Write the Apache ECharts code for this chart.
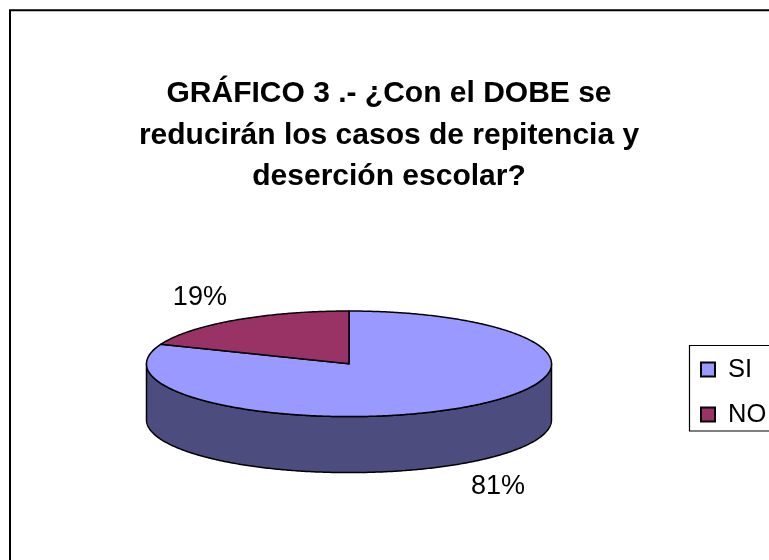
<!DOCTYPE html>
<html>
<head>
<meta charset="utf-8">
<script src="https://cdn.jsdelivr.net/npm/echarts@6/dist/echarts.min.js"></script>
<style>
html,body{margin:0;padding:0;background:#fff;}
#chart{width:769px;height:560px;}
</style>
</head>
<body>
<div id="chart"></div>
<script>
// ---- data ----
const categories = ['SI', 'NO'];
const values = [81, 19];
const titleText = 'GRÁFICO 3 .- ¿Con el DOBE se\nreducirán los casos de repitencia y\ndeserción escolar?';
const topColors = ['#9999FF', '#993366'];
const sideColors = ['#4C4C7F', '#4D1A33'];

// ---- layout ----
const CX = 349, CY = 363.8, RX = 202.5, RY = 52.8, DEPTH = 56;
const LKX = 1.31, LKY = 1.52;
const total = values.reduce((a, b) => a + b, 0);

function pt(a, dy) {
  return [CX + RX * Math.sin(a), CY - RY * Math.cos(a) + (dy || 0)];
}
function arcPts(a0, a1, dy) {
  const n = Math.max(2, Math.ceil(Math.abs(a1 - a0) / 0.01));
  const out = [];
  for (let k = 0; k <= n; k++) out.push(pt(a0 + (a1 - a0) * k / n, dy));
  return out;
}

function makeRender(idx) {
  return function (params, api) {
    const v = api.value(0);
    let before = 0;
    for (let j = 0; j < idx; j++) before += values[j];
    const a0 = before / total * Math.PI * 2;
    const a1 = a0 + v / total * Math.PI * 2;
    const children = [];
    const s0 = Math.max(a0, Math.PI / 2), s1 = Math.min(a1, Math.PI * 1.5);
    if (s1 > s0) {
      const topArc = arcPts(s0, s1, 0);
      const botArc = arcPts(s1, s0, DEPTH);
      children.push({
        type: 'polygon', z2: 1,
        shape: { points: topArc.concat(botArc) },
        style: { fill: sideColors[idx], stroke: '#000', lineWidth: 1.5, lineJoin: 'round' }
      });
    }
    const top = [[CX, CY]].concat(arcPts(a0, a1, 0));
    children.push({
      type: 'polygon', z2: 10,
      shape: { points: top },
      style: { fill: topColors[idx], stroke: '#000', lineWidth: 1.5, lineJoin: 'round' }
    });
    const am = (a0 + a1) / 2;
    const lx = CX + RX * LKX * Math.sin(am);
    let ly = CY - RY * LKY * Math.cos(am);
    if (Math.cos(am) < 0) ly += DEPTH;
    children.push({
      type: 'text', z2: 20,
      style: {
        text: Math.round(v / total * 100) + '%',
        x: lx, y: ly, fill: '#000',
        fontSize: 27, fontFamily: 'Liberation Sans, Arial, sans-serif',
        align: 'center', verticalAlign: 'middle'
      }
    });
    return { type: 'group', children: children };
  };
}

const chart = echarts.init(document.getElementById('chart'));
chart.setOption({
  animation: false,
  backgroundColor: '#fff',
  title: {
    text: titleText,
    left: 384,
    top: 68,
    textAlign: 'center',
    textStyle: {
      fontSize: 30, fontWeight: 'bold', color: '#000',
      fontFamily: 'Liberation Sans, Arial, sans-serif', lineHeight: 41.5
    }
  },
  legend: {
    orient: 'vertical',
    left: 700,
    top: 356.5,
    padding: 0,
    itemGap: 19,
    itemWidth: 14,
    itemHeight: 14,
    icon: 'rect',
    selectedMode: false,
    data: categories,
    textStyle: {
      fontSize: 25.5, lineHeight: 25, color: '#000',
      fontFamily: 'Liberation Sans, Arial, sans-serif',
      padding: [0, 0, 0, 8]
    }
  },
  graphic: [
    { type: 'rect', shape: { x: 10, y: 10.3, width: 900, height: 700 },
      style: { fill: 'none', stroke: '#000', lineWidth: 2 }, silent: true },
    { type: 'rect', shape: { x: 689.5, y: 345.5, width: 200, height: 85.5 },
      style: { fill: 'none', stroke: '#000', lineWidth: 1.2 }, silent: true }
  ],
  series: categories.map((c, i) => ({
    type: 'custom',
    name: c,
    coordinateSystem: 'none',
    silent: true,
    color: topColors[i],
    itemStyle: { color: topColors[i], borderColor: '#000', borderWidth: 1 },
    renderItem: makeRender(i),
    data: [[values[i]]]
  }))
});
</script>
</body>
</html>
